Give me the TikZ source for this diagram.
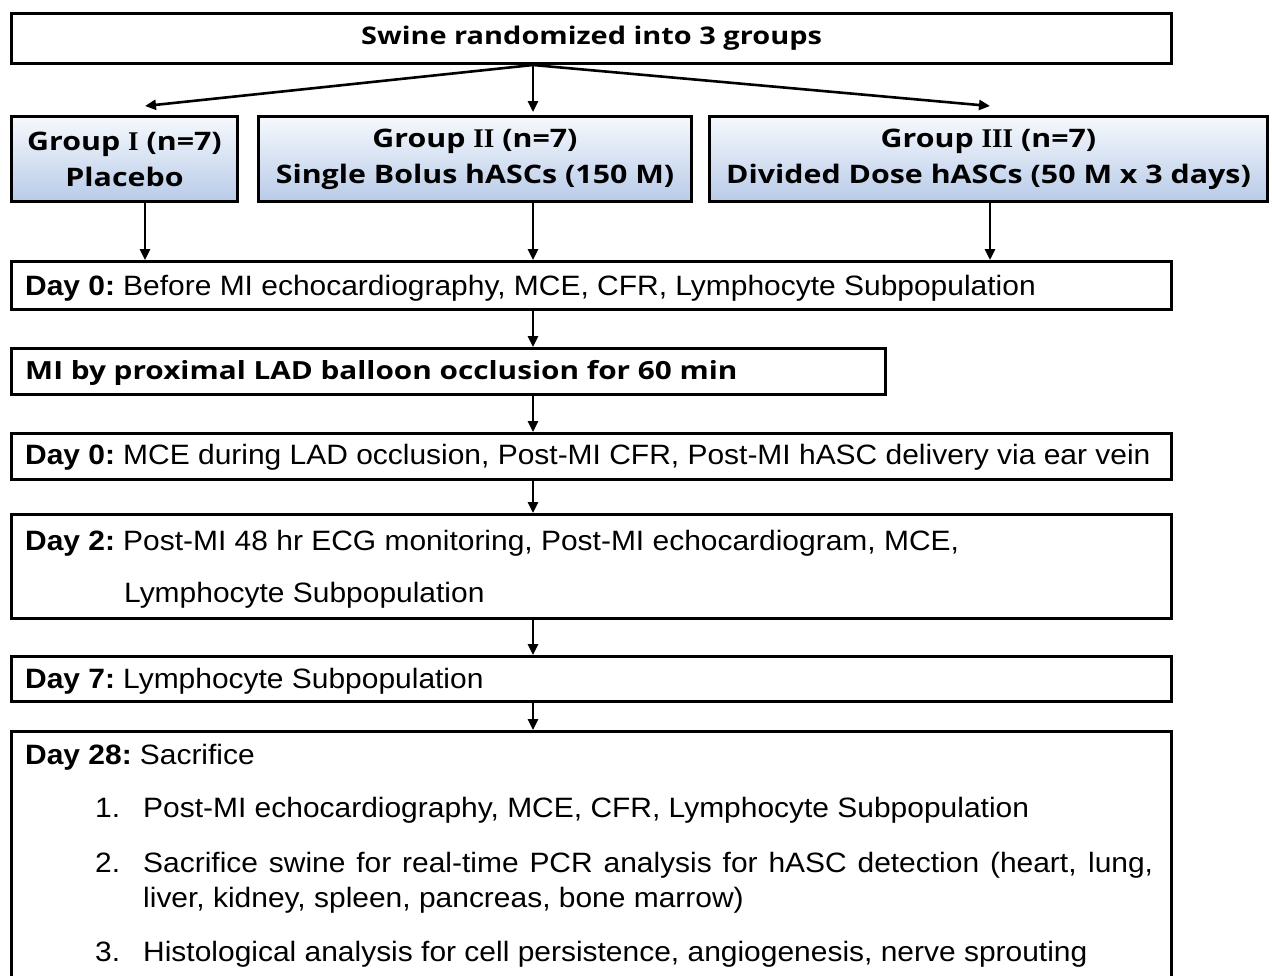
\documentclass[tikz,border=0pt]{standalone}
\usepackage{fontspec}
\setmainfont{Liberation Sans}[FakeStretch=1.07]
\newfontfamily\hdfont{Open Sans}[FakeStretch=1.19]
\newfontfamily\romfont{Liberation Serif}
\usetikzlibrary{arrows.meta}
\begin{document}
\begin{tikzpicture}[x=1pt,y=-1pt,
  box/.style={draw, line width=3pt, inner sep=0pt, anchor=north west},
  grp/.style={box, top color={rgb,255:red,246;green,249;blue,253}, bottom color={rgb,255:red,184;green,203;blue,232},
     align=center, font=\hdfont\bfseries\fontsize{25.5}{36}\selectfont},
  hd/.style={font=\hdfont\bfseries\fontsize{24.3}{30}\selectfont},
  hdm/.style={font=\hdfont\bfseries\fontsize{25}{30}\selectfont},
  bt/.style={anchor=base west, inner sep=0pt, font=\fontsize{28}{34}\selectfont},
  arr/.style={line width=2.6pt, -{Triangle[length=11pt,width=10pt]}}]
\path[use as bounding box] (0,0) rectangle (1272,975);
\clip (0,0) rectangle (1272,975);
\fill[white] (0,0) rectangle (1272,975);

% column coordinates
\coordinate (c1) at (145,0);
\coordinate (c2) at (533,0);
\coordinate (c3) at (990,0);
\coordinate (e1) at (145,106);
\coordinate (e3) at (990,106);

% top box
\node[box, hd, minimum width=1160pt, minimum height=50pt] (top) at (10,12) {Swine randomized into 3 groups};

% group boxes
\node[grp, minimum width=226pt, minimum height=85pt] (g1) at (10,115)
  {Group {\romfont\bfseries\fontsize{27}{36}\selectfont I} (n=7)\\Placebo};
\node[grp, minimum width=433pt, minimum height=85pt] (g2) at (257,115)
  {Group {\romfont\bfseries\fontsize{27}{36}\selectfont II} (n=7)\\Single Bolus hASCs (150 M)};
\node[grp, minimum width=558pt, minimum height=85pt] (g3) at (708,115)
  {Group {\romfont\bfseries\fontsize{27}{36}\selectfont III} (n=7)\\Divided Dose hASCs (50 M x 3 days)};

% timeline boxes
\node[box, minimum width=1160pt, minimum height=48pt] (d0a) at (10,260) {};
\node[box, minimum width=874pt, minimum height=46pt] (mi) at (10,347) {};
\node[box, minimum width=1160pt, minimum height=46pt] (d0b) at (10,432) {};
\node[box, minimum width=1160pt, minimum height=104pt] (d2) at (10,513) {};
\node[box, minimum width=1160pt, minimum height=45pt] (d7) at (10,655) {};
\node[box, minimum width=1160pt, minimum height=300pt] (d28) at (10,730) {};

% texts
\node[bt] (t0a) at (25,295) {\textbf{Day 0:}\kern-3pt{} Before MI echocardiography, MCE, CFR, Lymphocyte Subpopulation};
\node[hdm, anchor=base west, inner sep=0pt] (tmi) at (25,379) {MI by proximal LAD balloon occlusion for 60 min};
\node[bt] (t0b) at (25,464) {\textbf{Day 0:}\kern-3pt{} MCE during LAD occlusion, Post-MI CFR, Post-MI hASC delivery via ear vein};
\node[bt] (t2a) at (25,550) {\textbf{Day 2:}\kern-3pt{} Post-MI 48 hr ECG monitoring, Post-MI echocardiogram, MCE,};
\node[bt] (t2b) at (124,602) {Lymphocyte Subpopulation};
\node[bt] (t7) at (25,688) {\textbf{Day 7:}\kern-3pt{} Lymphocyte Subpopulation};
\node[bt] (t28) at (25,764) {\textbf{Day 28:}\kern-3pt{} Sacrifice};
\node[bt] (n1) at (95,817) {1.};
\node[bt] (i1) at (143,817) {Post-MI echocardiography, MCE, CFR, Lymphocyte Subpopulation};
\node[bt] (n2) at (95,872) {2.};
\node[bt] (i2a) at (143,872) {\makebox[1010pt][s]{Sacrifice swine for real-time PCR analysis for hASC detection (heart, lung,}};
\node[bt] (i2b) at (143,907) {liver, kidney, spleen, pancreas, bone marrow)};
\node[bt] (n3) at (95,961) {3.};
\node[bt] (i3) at (143,961) {Histological analysis for cell persistence, angiogenesis, nerve sprouting};

% connectors
\draw[arr] (top.south -| c2) -- (e1);
\draw[arr] (top.south -| c2) -- ([yshift=3pt]g2.north -| c2);
\draw[arr] (top.south -| c2) -- (e3);
\draw[arr] (g1.south -| c1) -- (d0a.north -| c1);
\draw[arr] (g2.south -| c2) -- (d0a.north -| c2);
\draw[arr] (g3.south -| c3) -- (d0a.north -| c3);
\draw[arr] (d0a.south -| c2) -- (mi.north -| c2);
\draw[arr] (mi.south -| c2) -- (d0b.north -| c2);
\draw[arr] (d0b.south -| c2) -- (d2.north -| c2);
\draw[arr] (d2.south -| c2) -- (d7.north -| c2);
\draw[arr] (d7.south -| c2) -- (d28.north -| c2);
\end{tikzpicture}
\end{document}
